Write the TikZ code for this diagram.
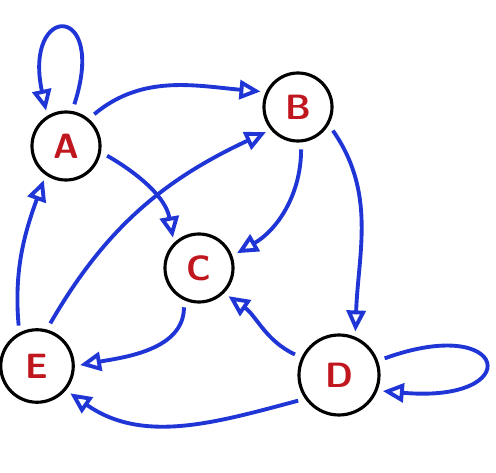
\documentclass[tikz,border=0pt]{standalone}
\usepackage{tikz}
\usetikzlibrary{arrows.meta}
\usepackage{xcolor}
\definecolor{EdgeBlue}{HTML}{1F35D6}
\definecolor{LabelRed}{HTML}{C0161E}
\tikzset{
  vbox/.style={draw=black, line width=1.8pt, circle, minimum size=1.36cm,
    inner sep=0pt, font=\sffamily\bfseries\fontsize{20}{24}\selectfont, text=LabelRed},
  flow/.style={-{Triangle[open, length=4.2mm, width=3.8mm]}, line width=2.2pt,
    draw=EdgeBlue, shorten <=4pt, shorten >=3pt},
}
\begin{document}
\begin{tikzpicture}
    \useasboundingbox (0,0) rectangle (9.92,9.46);
    \node[vbox] (A) at (1.32,6.54) {A};
    \node[vbox] (B) at (5.96,7.32) {B};
    \node[vbox] (C) at (3.98,4.10) {C};
    \node[vbox, minimum size=1.6cm] (D) at (6.78,1.96) {D};
    \node[vbox, minimum size=1.45cm] (E) at (0.74,2.14) {E};
    % self loops
    \draw[flow] (A.80) .. controls +(72:2.3) and +(102:2.3) .. (A.122);
    \draw[flow] (D.20) .. controls +(20:2.8) and +(-5:3.0) .. (D.-22);
    % edges
    \draw[flow] (A.50) to[out=40, in=175] (B.155);
    \draw[flow] (A.-10) to[out=-30, in=100] (C.135);
    \draw[flow] (B.-85) to[out=-90, in=30] (C.20);
    \draw[flow] (B.-30) to[out=-55, in=88] (D.67);
    \draw[flow] (E.75) to[out=60, in=205] (B.220);
    \draw[flow] (E.118) to[out=95, in=250] (A.235);
    \draw[flow] (C.245) to[out=-90, in=10] (E.0);
    \draw[flow] (D.155) to[out=155, in=-35] (C.-45);
    \draw[flow] (D.215) to[out=195, in=-35] (E.-40);
\end{tikzpicture}
\end{document}
